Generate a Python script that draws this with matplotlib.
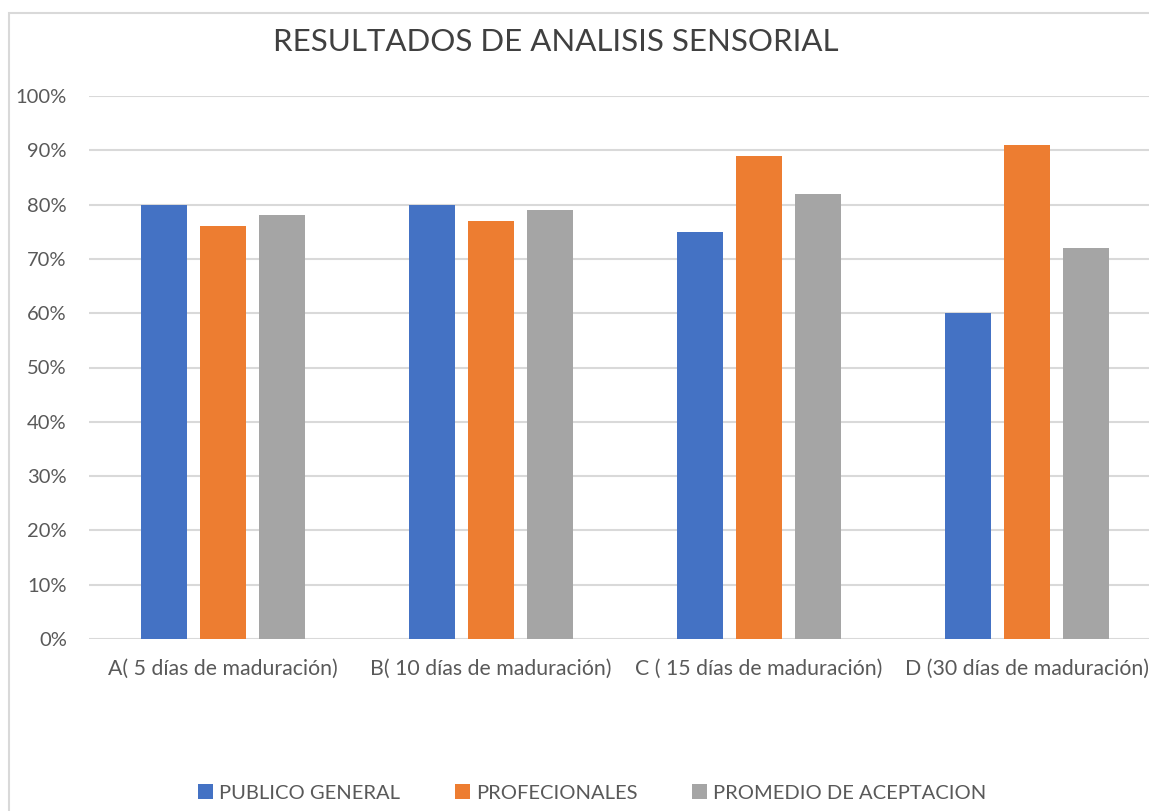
import matplotlib.pyplot as plt
import numpy as np
from matplotlib.patches import Rectangle
from matplotlib.ticker import PercentFormatter

categories = [
    "A( 5 días de maduración)",
    "B( 10 días de maduración)",
    "C ( 15 días de maduración)",
    "D (30 días de maduración)",
]
series_names = ["PUBLICO GENERAL", "PROFECIONALES", "PROMEDIO DE ACEPTACION"]
publico_general = [0.80, 0.80, 0.75, 0.60]
profesionales = [0.76, 0.77, 0.89, 0.91]
promedio = [0.78, 0.79, 0.82, 0.72]
colors = ["#4472C4", "#ED7D31", "#A5A5A5"]

plt.rcParams['font.family'] = ['Lato', 'DejaVu Sans']
TEXT = "#595959"
GRID = "#D9D9D9"

W, H = 1149, 811
fig = plt.figure(figsize=(W / 100, H / 100), dpi=100)

# chart border (runs off the right/bottom edge like the original screenshot)
fig.patches.append(Rectangle((9 / W, -0.1), 1.2, 1.1 - 13 / H,
                             transform=fig.transFigure, fill=False,
                             edgecolor=GRID, linewidth=1.5))

ax = fig.add_axes([89 / W, 1 - 639 / H, 1072 / W, 543 / H])

x = np.arange(len(categories))
width = 0.172
step = 0.22
for i, (vals, name) in enumerate(zip([publico_general, profesionales, promedio], series_names)):
    ax.bar(x + (i - 1) * step, vals, width, color=colors[i], label=name, zorder=3)

ax.set_xlim(-0.5, len(categories) - 0.5)
ax.set_ylim(0, 1.0)
ax.set_yticks(np.arange(0, 1.01, 0.1))
ax.yaxis.set_major_formatter(PercentFormatter(1.0, decimals=0))
ax.set_xticks(x)
ax.set_xticklabels(categories)
ax.grid(axis='y', color=GRID, linewidth=1.5, zorder=0)
for s in ax.spines.values():
    s.set_visible(False)
ax.tick_params(axis='both', length=0, labelcolor=TEXT)
ax.tick_params(axis='y', pad=16, labelsize=14.5)
ax.tick_params(axis='x', pad=14, labelsize=15.3)

fig.text(556 / W, 1 - 42 / H, "RESULTADOS DE ANALISIS SENSORIAL",
         ha='center', va='center', fontsize=22.5, color="#404040")

fig.legend(loc='center', bbox_to_anchor=(592 / W, 1 - 793 / H), ncol=3,
           frameon=False, fontsize=14.5, labelcolor=TEXT,
           handlelength=0.75, handleheight=0.75, handletextpad=0.3,
           columnspacing=2.7)

fig.savefig("out.png", dpi=100)
